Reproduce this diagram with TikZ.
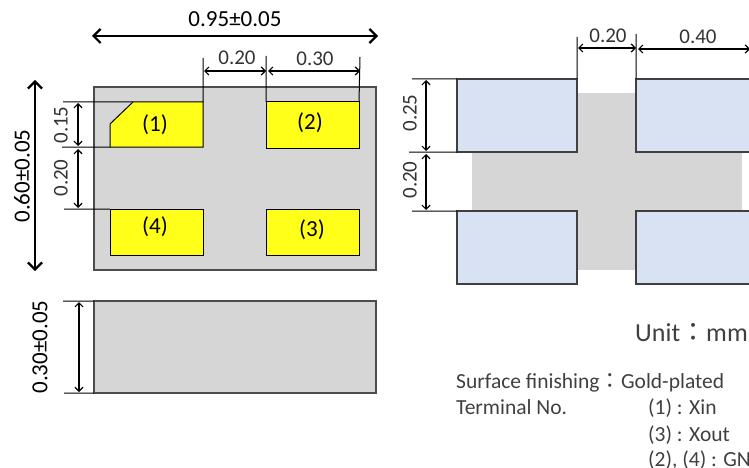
\documentclass[tikz,border=0pt]{standalone}
\usepackage{fontspec}
\setmainfont{Carlito}
\newfontfamily\cjk{Noto Sans CJK JP}
\usetikzlibrary{arrows.meta,positioning}
\definecolor{bodygray}{HTML}{D6D6D6}
\definecolor{padyellow}{HTML}{FFFF1A}
\definecolor{landblue}{HTML}{D9E2F3}
\definecolor{notegray}{HTML}{404040}
\tikzset{
	bodybox/.style={draw=black!70,line width=1.2pt,fill=bodygray,inner sep=0pt,outer sep=0pt,anchor=north west},
	crossbox/.style={fill=bodygray,inner sep=0pt,outer sep=0pt,anchor=north west},
	padbox/.style={draw=black,line width=1pt,fill=padyellow,minimum width=93pt,minimum height=46pt,inner sep=0pt,outer sep=0pt,anchor=north west},
	landbox/.style={draw=black!75,line width=1.2pt,fill=landblue,minimum height=73pt,inner sep=0pt,outer sep=0pt,anchor=north west},
	dimtext/.style={font=\fontsize{21}{23}\selectfont,text=black!80,inner sep=0pt},
	mainlabel/.style={font=\fontsize{23}{25}\selectfont,inner sep=0pt},
	notetext/.style={font=\fontsize{21.5}{24}\selectfont,text=notegray,inner sep=0pt,anchor=base west},
	extline/.style={line width=1pt},
	dimarrow/.style={line width=1.2pt,{Straight Barb[length=4pt,width=8pt]}-{Straight Barb[length=4pt,width=8pt]}},
	bigarrow/.style={line width=2.2pt,{Straight Barb[length=7pt,width=14pt]}-{Straight Barb[length=7pt,width=14pt]}}
}
\begin{document}
\begin{tikzpicture}[x=1pt,y=-1pt]
	\useasboundingbox (0,0) rectangle (749,468);
	\clip (0,0) rectangle (749,468);

	% top view
	\node[bodybox,minimum width=282pt,minimum height=183pt] (body) at (94,87) {};
	\coordinate (corA) at (133,102);
	\coordinate (corB) at (203,102);
	\coordinate (corC) at (203,147);
	\coordinate (corD) at (110,147);
	\coordinate (corE) at (110,124);
	\draw[line width=1pt,fill=padyellow] (corA) -- (corB) -- (corC) -- (corD) -- (corE) -- cycle;
	\foreach \x/\y/\n in {266/102/2,266/209/3,110/209/4}
		\node[padbox] (pad\n) at (\x,\y) {};
	\foreach \x/\y/\n in {155/125/1,310/123/2,312/230/3,155/227/4}
		\node[mainlabel] (num\n) at (\x,\y) {(\n)};

	% side view
	\node[bodybox,minimum width=282pt,minimum height=92pt] (side) at (94,301) {};

	% land pattern, runs off the right edge
	\node[crossbox,minimum width=270pt,minimum height=59pt] (crossH) at (472,152) {};
	\node[crossbox,minimum width=59pt,minimum height=177pt] (crossV) at (577,93) {};
	\node[landbox,minimum width=120pt] (landA) at (457,79) {};
	\node[landbox,minimum width=120pt] (landB) at (457,211) {};
	\node[landbox,minimum width=130pt] (landC) at (636,79) {};
	\node[landbox,minimum width=130pt] (landD) at (636,211) {};

	% free ends of the extension lines and arrows
	\coordinate (extA) at (203,58);
	\coordinate (extB) at (266,56);
	\coordinate (extC) at (360,57);
	\coordinate (extD) at (63,102);
	\coordinate (extE) at (62,147);
	\coordinate (extF) at (64,209);
	\coordinate (extG) at (63,301);
	\coordinate (extH) at (64,393);
	\coordinate (extI) at (577,37);
	\coordinate (extJ) at (636,34);
	\coordinate (extK) at (412,79);
	\coordinate (extL) at (409,152);
	\coordinate (extM) at (412,211);

	\path [extline,draw]
		(extA) -- (corB)
		(extB) -- (pad2.north west)
		(extC) -- (pad2.north east)
		(extD) -- (corA)
		(extE) -- (corD)
		(extF) -- (pad4.north west)
		(extG) -- (side.north west)
		(extH) -- (side.south west)
		(extI) -- (landA.north east)
		(extJ) -- (landC.north west)
		(extK) -- (landA.north west)
		(extL) -- (landA.south west)
		(extM) -- (landB.north west);

	\coordinate (wideA) at (92,36);
	\coordinate (wideB) at (378,36);
	\coordinate (tallA) at (35,80);
	\coordinate (tallB) at (35,271);
	\coordinate (gapA) at (204,71);
	\coordinate (gapB) at (266,71);
	\coordinate (gapC) at (268,71);
	\coordinate (gapD) at (360,71);
	\coordinate (vertA) at (78,103);
	\coordinate (vertB) at (78,146);
	\coordinate (vertC) at (78,149);
	\coordinate (vertD) at (78,208);
	\coordinate (sideA) at (79,302);
	\coordinate (sideB) at (79,392);
	\coordinate (landE) at (578,48);
	\coordinate (landF) at (636,48);
	\coordinate (landG) at (638,49);
	\coordinate (landH) at (750,49);
	\coordinate (landI) at (426,80);
	\coordinate (landJ) at (426,151);
	\coordinate (landK) at (426,154);
	\coordinate (landL) at (426,210);

	\draw[bigarrow] (wideA) -- (wideB);
	\draw[bigarrow] (tallA) -- (tallB);
	\path [dimarrow]
		(gapA) edge (gapB)
		(gapC) edge (gapD)
		(vertA) edge (vertB)
		(vertC) edge (vertD)
		(sideA) edge (sideB)
		(landE) edge (landF)
		(landG) edge (landH)
		(landI) edge (landJ)
		(landK) edge (landL);

	% dimensions
	\node[mainlabel] (wideT) at (235,19) {0.95±0.05};
	\node[mainlabel,rotate=90] (tallT) at (22,176) {0.60±0.05};
	\node[mainlabel,rotate=90] (sideT) at (40,347) {0.30±0.05};
	\node[dimtext] (gapT) at (237,58) {0.20};
	\node[dimtext] (padT) at (315,59) {0.30};
	\node[dimtext,rotate=90] (vertT) at (61,125) {0.15};
	\node[dimtext,rotate=90] (vertU) at (61,178) {0.20};
	\node[dimtext] (landT) at (608,36) {0.20};
	\node[dimtext] (landU) at (698,37) {0.40};
	\node[dimtext,rotate=90] (landV) at (410,113) {0.25};
	\node[dimtext,rotate=90] (landW) at (410,180) {0.20};

	% notes
	\node[notetext,font=\fontsize{26}{28}\selectfont] (unit) at (635,341) {Unit{\cjk ：}mm};
	\node[notetext] (finish) at (456,388) {Surface finishing{\cjk ：}Gold-plated};
	\node[notetext] (term) at (456,414) {Terminal No.};
	\node[notetext] (xin) at (648,414) {(1) : Xin};
	\node[notetext] (xout) at (648,441) {(3) : Xout};
	\node[notetext] (gnd) at (648,466) {(2), (4) : GND};
\end{tikzpicture}
\end{document}
